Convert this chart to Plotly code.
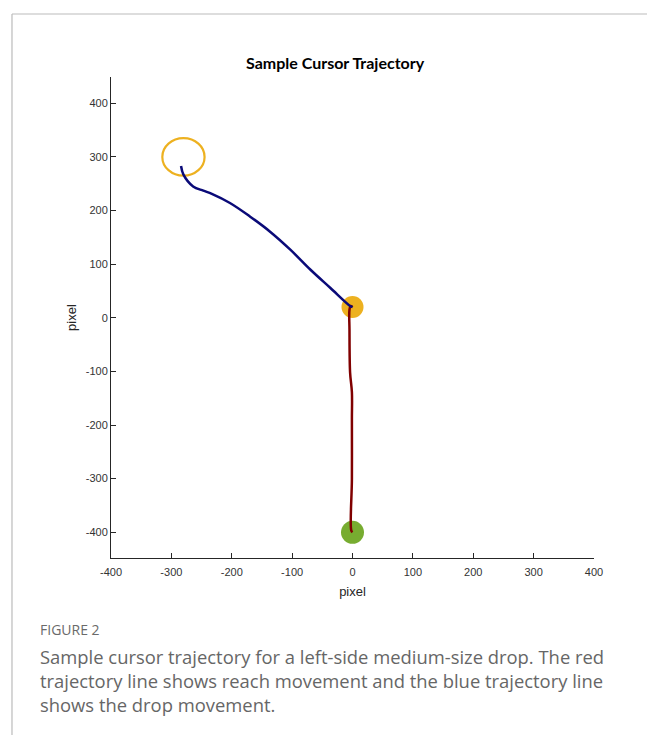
import plotly.graph_objects as go

# Drop (blue) trajectory: from target area toward the drop point
drop_x = [-284, -280, -264, -247, -233, -203, -170, -137, -103, -70, -37, -4, 0]
drop_y = [283, 267, 245, 237, 231, 214, 189, 161, 127, 90, 56, 22, 20]

# Reach (red) trajectory: from start (green) up to the object (orange)
reach_x = [0, -3, -5, -5, -4, -1, -1, -1, -2, 0]
reach_y = [20, 22, 15, -22, -102, -139, -189, -301, -397, -400]

start_pt = (0, -400)      # green
object_pt = (0, 20)       # orange filled
target_center = (-280, 300)
target_radius = 35

x_ticks = [-400, -300, -200, -100, 0, 100, 200, 300, 400]
y_ticks = [-400, -300, -200, -100, 0, 100, 200, 300, 400]

fig = go.Figure()

fig.add_trace(go.Scatter(x=[object_pt[0]], y=[object_pt[1]], mode="markers",
                         marker=dict(size=22, color="#EDB120"), showlegend=False))
fig.add_trace(go.Scatter(x=[start_pt[0]], y=[start_pt[1]], mode="markers",
                         marker=dict(size=23, color="#77AC30"), showlegend=False))
fig.add_trace(go.Scatter(x=reach_x, y=reach_y, mode="lines",
                         line=dict(color="#800000", width=2.5, shape="spline"), showlegend=False))
fig.add_trace(go.Scatter(x=drop_x, y=drop_y, mode="lines",
                         line=dict(color="#0A0A78", width=2.5, shape="spline"), showlegend=False))

fig.add_shape(type="circle", xref="x", yref="y",
              x0=target_center[0] - target_radius, x1=target_center[0] + target_radius,
              y0=target_center[1] - target_radius, y1=target_center[1] + target_radius,
              line=dict(color="#EDB120", width=2.2), layer="below")

# frame lines of the figure panel
fig.add_shape(type="line", xref="paper", yref="paper", x0=-0.205, x1=1.2, y0=1.131, y1=1.131,
              line=dict(color="#BBBBBB", width=1.2))
fig.add_shape(type="line", xref="paper", yref="paper", x0=-0.205, x1=-0.205, y0=1.131, y1=-0.4,
              line=dict(color="#BBBBBB", width=1.2))

axis_common = dict(showgrid=False, zeroline=False, showline=True, linecolor="#262626",
                   linewidth=1, ticks="inside", ticklen=5, tickcolor="#262626",
                   tickfont=dict(family="Liberation Sans, Arial", size=11, color="#333333"),
                   mirror=False)

fig.update_xaxes(range=[-400, 400], tickvals=x_ticks, ticktext=[str(v) for v in x_ticks],
                 ticklabelstandoff=4,
                 title=dict(text="pixel", font=dict(family="Liberation Sans, Arial", size=13, color="#262626"),
                            standoff=9),
                 **axis_common)
fig.update_yaxes(range=[-448, 449], tickvals=y_ticks, ticktext=[str(v) for v in y_ticks],
                 title=dict(text="pixel", font=dict(family="Liberation Sans, Arial", size=13, color="#262626"),
                            standoff=6),
                 **axis_common)

fig.add_annotation(text="<b>Sample Cursor Trajectory</b>", xref="paper", yref="paper",
                   x=0.464, y=1.031, xanchor="center", yanchor="middle", showarrow=False,
                   font=dict(family="Lato, Open Sans", size=16, color="#000000"))

fig.add_annotation(text="FIGURE 2", xref="paper", yref="paper",
                   x=-0.151, y=-0.125, xanchor="left", yanchor="top", showarrow=False,
                   font=dict(family="Open Sans", size=14, color="#6A6A6A"))
fig.add_annotation(text="Sample cursor trajectory for a left-side medium-size drop. The red<br>"
                        "trajectory line shows reach movement and the blue trajectory line<br>"
                        "shows the drop movement.",
                   xref="paper", yref="paper", x=-0.151, y=-0.1755, xanchor="left", yanchor="top",
                   showarrow=False, align="left",
                   font=dict(family="Open Sans", size=18.4, color="#666666"))

fig.update_layout(width=655, height=735, margin=dict(l=103, r=69, t=69, b=185),
                  plot_bgcolor="white", paper_bgcolor="white", showlegend=False)

fig.write_html("out.html")
